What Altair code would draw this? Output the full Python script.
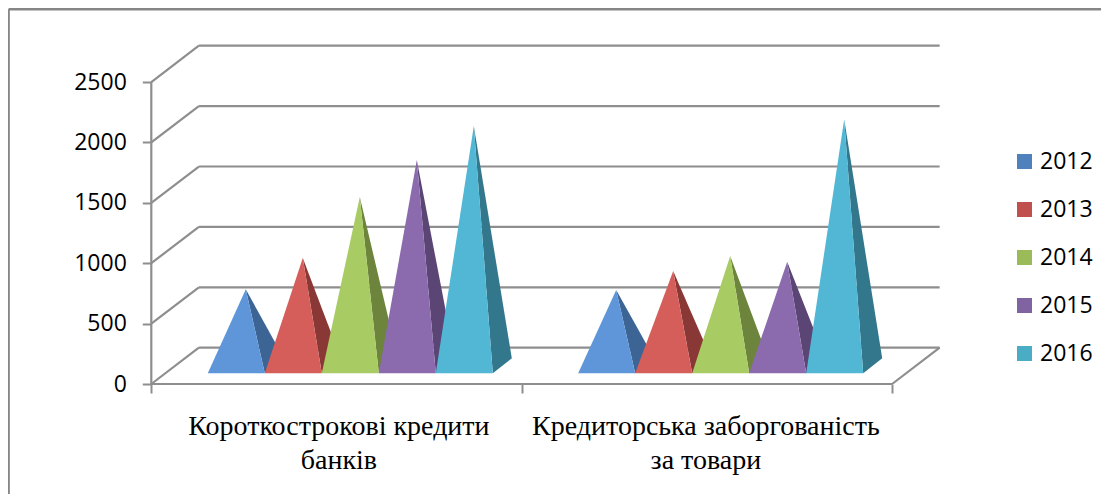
import altair as alt
import pandas as pd

years = ["2012", "2013", "2014", "2015", "2016"]
categories = ["Короткострокові кредити\nбанків", "Кредиторська заборгованість\nза товари"]
short_term = [633, 892, 1397, 1704, 1985]
payables = [628, 785, 909, 862, 2040]
legend_colors = ["#4f81bd", "#c0504d", "#9bbb59", "#8064a2", "#4bacc6"]
front_colors = ["#5e96d9", "#d55e5a", "#a8cb63", "#8b6bad", "#51b7d5"]
side_colors = ["#3c6596", "#8a3835", "#6d843d", "#5a4575", "#32778c"]
y_ticks = [0, 500, 1000, 1500, 2000, 2500]
x_ticks = [0, 1, 2]

# scale geometry of the pseudo-3D box, in axis units
X_DOMAIN = [-0.38688, 2.5640]
Y_DOMAIN = [-910.6, 3112.6]
WIDTH, HEIGHT = 1093, 486
DEPTH_X, DEPTH_Y = 0.1284, 300.5
START = 0.1525
BAR_W = 0.1539
BASE_DX = 0.0513
FRONT, BACK = 88.6, 212.8
MID = (FRONT + BACK) / 2
GRAY = "#8e8e8e"

x_scale = alt.Scale(domain=X_DOMAIN, nice=False, zero=False)
y_scale = alt.Scale(domain=Y_DOMAIN, nice=False, zero=False)

rules = []
for t in y_ticks:
    rules.append(dict(x=0, x2=DEPTH_X, y=t, y2=t + DEPTH_Y))
    rules.append(dict(x=DEPTH_X, x2=2 + DEPTH_X, y=t + DEPTH_Y, y2=t + DEPTH_Y))
rules.append(dict(x=0, x2=0, y=0, y2=2500))
rules.append(dict(x=0, x2=2, y=0, y2=0))
rules.append(dict(x=2, x2=2 + DEPTH_X, y=0, y2=DEPTH_Y))

grid = alt.Chart(pd.DataFrame(rules)).mark_rule(color=GRAY, strokeWidth=2.2).encode(
    x=alt.X("x:Q", scale=x_scale, title=None,
            axis=alt.Axis(values=x_ticks, labels=False, domain=False, grid=False, tickSize=9,
                          tickWidth=2, tickColor=GRAY, offset=-110, title=None)),
    x2="x2:Q",
    y=alt.Y("y:Q", scale=y_scale, title=None,
            axis=alt.Axis(values=y_ticks, domain=False, grid=False, tickSize=9, tickWidth=2,
                          tickColor=GRAY, offset=-143.3, labelPadding=16, labelFontSize=23,
                          labelFont="Open Sans", labelColor="#000000", title=None, format="d")),
    y2="y2:Q",
)

frame_rows = [
    dict(x=-0.3853, x2=-0.3853, y=Y_DOMAIN[0], y2=3101.8),
    dict(x=-0.3853, x2=X_DOMAIN[1], y=3101.8, y2=3101.8),
]
frame = alt.Chart(pd.DataFrame(frame_rows)).mark_rule(color="#868686", strokeWidth=2.5).encode(
    x=alt.X("x:Q", scale=x_scale), x2="x2:Q",
    y=alt.Y("y:Q", scale=y_scale), y2="y2:Q",
)

layers = [frame, grid]
for c, values in enumerate([short_term, payables]):
    for s, v in enumerate(values):
        x0 = c + START + s * BAR_W
        x1 = x0 + BAR_W
        xa = (x0 + x1) / 2 + BASE_DX / 2
        top = v + MID
        xb = x1 + BASE_DX
        upper_mid = top + (BACK - top) * (x1 - xa) / (xb - xa)
        side = pd.DataFrame([
            dict(x=xa, y=top, y2=top),
            dict(x=x1, y=upper_mid, y2=FRONT),
            dict(x=xb, y=BACK, y2=BACK),
        ])
        front = pd.DataFrame([
            dict(x=x0, y=FRONT, y2=FRONT),
            dict(x=xa, y=top, y2=FRONT),
            dict(x=x1, y=FRONT, y2=FRONT),
        ])
        for df, col in ((side, side_colors[s]), (front, front_colors[s])):
            layers.append(
                alt.Chart(df).mark_area(color=col, orient="vertical").encode(
                    x=alt.X("x:Q", scale=x_scale, sort=None),
                    y=alt.Y("y:Q", scale=y_scale),
                    y2="y2:Q",
                )
            )

legend_df = pd.DataFrame({"year": years, "value": short_term})
legend_layer = alt.Chart(legend_df).mark_square(size=0, opacity=1).encode(
    x=alt.value(0),
    y=alt.Y("value:Q", scale=y_scale),
    fill=alt.Fill(
        "year:N",
        scale=alt.Scale(domain=years, range=legend_colors),
        legend=alt.Legend(
            title=None, orient="none", legendX=1005, legendY=142, padding=0,
            symbolType="square", symbolSize=225, symbolStrokeWidth=0,
            labelFont="Open Sans", labelFontSize=23, labelColor="#000000", labelOffset=4,
            rowPadding=24,
        ),
    ),
)
layers.append(legend_layer)

label_df = pd.DataFrame({"name": categories, "x": [0.5065, 1.4973], "y": [-356, -356]})
labels = alt.Chart(label_df).mark_text(
    font="Liberation Serif", fontSize=28, lineBreak="\n", lineHeight=34,
    color="#000000", align="center", baseline="middle",
).encode(
    x=alt.X("x:Q", scale=x_scale),
    y=alt.Y("y:Q", scale=y_scale),
    text="name:N",
)
layers.append(labels)

chart = alt.layer(*layers).properties(
    width=WIDTH, height=HEIGHT, padding=0, background="#ffffff",
    autosize=alt.AutoSizeParams(type="none"),
).configure_view(stroke=None)

chart.save("out.html", embed_options={"renderer": "svg", "actions": False})
